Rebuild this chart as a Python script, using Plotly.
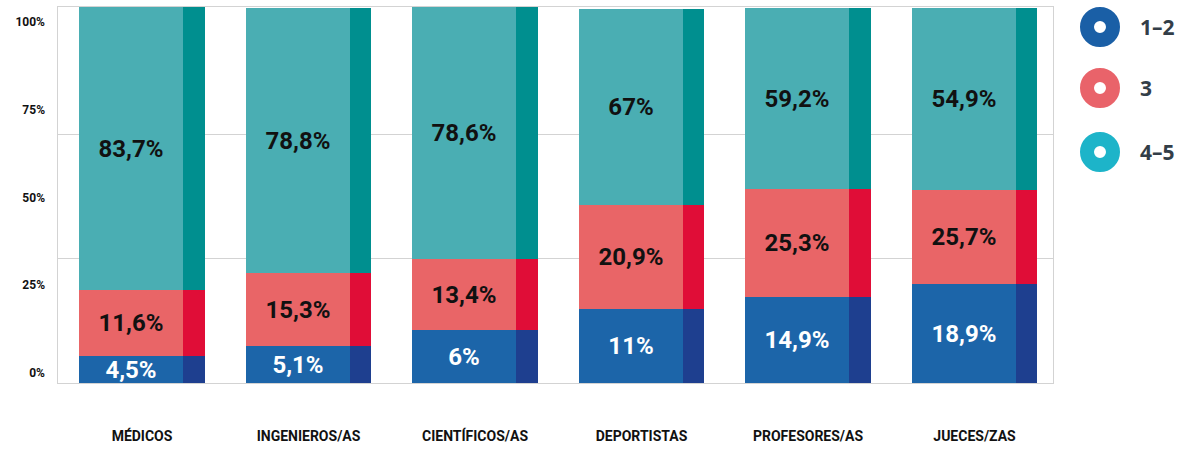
import numpy as np
import plotly.graph_objects as go

# ---------------- data ----------------
categories = ["MÉDICOS", "INGENIEROS/AS", "CIENTÍFICOS/AS", "DEPORTISTAS", "PROFESORES/AS", "JUECES/ZAS"]
series_names = ["1–2", "3", "4–5"]

# printed values (%)
val_12 = [4.5, 5.1, 6, 11, 14.9, 18.9]
val_3 = [11.6, 15.3, 13.4, 20.9, 25.3, 25.7]
val_45 = [83.7, 78.8, 78.6, 67, 59.2, 54.9]

# segment heights as drawn in the reference infographic (% of axis height)
drawn_12 = [7.2, 9.8, 14.1, 19.7, 22.9, 26.3]
drawn_3 = [17.6, 19.5, 18.8, 27.7, 28.6, 25.0]
drawn_45 = [75.2, 70.5, 67.1, 52.2, 48.3, 48.4]

ytick_vals = [0, 25, 50, 75, 100]
ytick_text = ["0%", "25%", "50%", "75%", "100%"]

# ---------------- styles ----------------
main_colors = ["#1c65a9", "#e96567", "#4aaeb3"]
strip_colors = ["#1e3f8f", "#e00d37", "#008f8f"]
legend_colors = ["#1a5fa6", "#e9636a", "#1db4c9"]
text_colors = ["#ffffff", "#111111", "#111111"]
COND = "Roboto, Liberation Sans Narrow, sans-serif"

def fmt(v):
    return f"{v:g}".replace(".", ",") + "%"

x = np.arange(len(categories))
values = [val_12, val_3, val_45]
drawn = [drawn_12, drawn_3, drawn_45]

fig = go.Figure()
base = np.zeros(len(categories))
for i in range(3):
    h = np.array(drawn[i])
    fig.add_trace(go.Bar(
        x=x, y=h, base=base.copy(), width=0.6245, offset=-0.3755,
        marker=dict(color=main_colors[i], line=dict(width=0)),
        text=[fmt(v) for v in values[i]], textposition="inside",
        insidetextanchor="middle", textangle=0,
        textfont=dict(family=COND, size=24, color=text_colors[i], weight="bold"),
        name=series_names[i], showlegend=False, hoverinfo="skip",
    ))
    fig.add_trace(go.Bar(
        x=x, y=h, base=base.copy(), width=0.1265, offset=0.249,
        marker=dict(color=strip_colors[i], line=dict(width=0)),
        showlegend=False, hoverinfo="skip",
    ))
    base = base + h

# invisible trace so the label axis renders
fig.add_trace(go.Scatter(x=[0], y=[0], yaxis="y2", mode="markers",
                         marker=dict(opacity=0), showlegend=False, hoverinfo="skip"))

fig.update_layout(
    width=1191, height=450,
    margin=dict(l=58, r=138, t=7, b=67, autoexpand=False),
    paper_bgcolor="white", plot_bgcolor="white",
    barmode="overlay", bargap=0,
    uniformtext=dict(minsize=24, mode="show"),
    xaxis=dict(
        range=[-0.5045, 5.4715], tickvals=list(x), ticktext=categories,
        showgrid=False, zeroline=False, showline=True, mirror=True,
        linecolor="#d3d3d3", linewidth=1, ticks="", automargin=False,
        ticklabelstandoff=40,
        tickfont=dict(family=COND, size=14, color="#111111", weight="bold"),
    ),
    yaxis=dict(
        range=[0, 100], tickvals=[33, 66], showticklabels=False,
        showgrid=True, gridcolor="#d3d3d3", gridwidth=1, zeroline=False,
        showline=True, mirror=True, linecolor="#d3d3d3", linewidth=1, ticks="",
        automargin=False,
    ),
    yaxis2=dict(
        overlaying="y", side="left", anchor="x",
        range=[-2.85, 104.27], tickvals=ytick_vals, ticktext=ytick_text,
        showgrid=False, zeroline=False, showline=False, ticks="",
        ticklabelstandoff=12, automargin=False,
        tickfont=dict(family=COND, size=12, color="#111111", weight="bold"),
    ),
    showlegend=False,
)

# legend: rings + labels
legend_y_px = [27, 88, 152]
for i in range(3):
    yc = (383 - legend_y_px[i]) / 376
    fig.add_shape(type="circle", xref="paper", yref="paper",
                  xsizemode="pixel", ysizemode="pixel",
                  xanchor=(1100 - 58) / 995, yanchor=yc,
                  x0=-13, x1=13, y0=-13, y1=13,
                  line=dict(color=legend_colors[i], width=14), fillcolor="white")
    fig.add_annotation(xref="paper", yref="paper", x=(1138 - 58) / 995, y=yc,
                       xanchor="left", yanchor="middle", showarrow=False,
                       text=series_names[i],
                       font=dict(family="Open Sans, Noto Sans, sans-serif", size=21,
                                 color="#333e48", weight="bold"))

fig.write_html("out.html", config={"displayModeBar": False},
               post_script="document.body.style.margin='0';")
